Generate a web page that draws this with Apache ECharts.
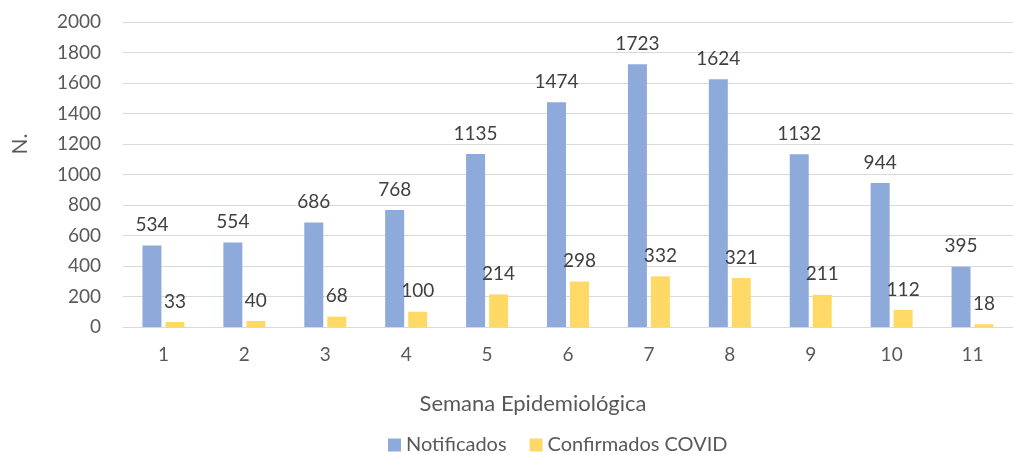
<!DOCTYPE html>
<html>
<head>
<meta charset="utf-8">
<script src="https://cdn.jsdelivr.net/npm/echarts@6/dist/echarts.min.js"></script>
<style>
  html, body { margin: 0; padding: 0; background: #fff; }
  #chart { width: 1013px; height: 455px; }
</style>
</head>
<body>
<div id="chart"></div>
<script>
// semanas epidemiológicas
const semanas = ['1', '2', '3', '4', '5', '6', '7', '8', '9', '10', '11'];
const notificados = [534, 554, 686, 768, 1135, 1474, 1723, 1624, 1132, 944, 395];
const confirmados = [33, 40, 68, 100, 214, 298, 332, 321, 211, 112, 18];

const fonte = 'Lato, "Open Sans", sans-serif';
const cinza = '#595959';

const chart = echarts.init(document.getElementById('chart'));

function barLabel() {
  return {
    show: true,
    position: 'top',
    distance: 11,
    fontSize: 19,
    fontFamily: fonte,
    color: '#404040'
  };
}

chart.setOption({
  animation: false,
  textStyle: { fontFamily: fonte },
  grid: { left: 123, right: -8, top: 22, bottom: 128 },
  legend: {
    data: ['Notificados', 'Confirmados COVID'],
    left: 383,
    bottom: -5,
    itemWidth: 13,
    itemHeight: 13,
    itemGap: 23,
    icon: 'rect',
    textStyle: { fontSize: 20, color: cinza, fontFamily: fonte }
  },
  graphic: [
    {
      type: 'text',
      x: 10,
      y: 144,
      rotation: Math.PI / 2,
      style: {
        text: 'N.',
        fontSize: 21,
        fontFamily: fonte,
        fill: cinza,
        align: 'center',
        verticalAlign: 'top'
      }
    }
  ],
  xAxis: {
    type: 'category',
    data: semanas,
    name: 'Semana Epidemiológica',
    nameLocation: 'middle',
    nameGap: 66,
    nameTextStyle: { fontSize: 22, color: cinza, padding: [0, 70, 0, 0] },
    axisLine: { lineStyle: { color: '#d9d9d9' } },
    axisTick: { show: false },
    axisLabel: { fontSize: 19, color: cinza, margin: 18 }
  },
  yAxis: {
    type: 'value',
    min: 0,
    max: 2000,
    interval: 200,
    axisLine: { show: false },
    axisTick: { show: false },
    axisLabel: { fontSize: 19, color: cinza, margin: 22, formatter: (v) => String(v) },
    splitLine: { lineStyle: { color: '#d9d9d9' } }
  },
  series: [
    {
      name: 'Notificados',
      type: 'bar',
      data: notificados,
      barWidth: 19,
      barGap: '21%',
      itemStyle: { color: '#8eaadb' },
      label: barLabel()
    },
    {
      name: 'Confirmados COVID',
      type: 'bar',
      data: confirmados,
      barWidth: 19,
      itemStyle: { color: '#ffd966' },
      label: barLabel()
    }
  ]
});
</script>
</body>
</html>
